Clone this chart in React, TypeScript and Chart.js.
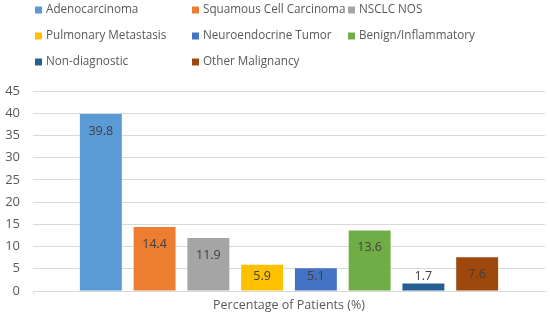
import React, { useEffect, useRef } from "react";
import { Chart, registerables } from "chart.js";

Chart.register(...registerables);

const categories = ["Percentage of Patients (%)"];
const seriesNames = [
  "Adenocarcinoma",
  "Squamous Cell Carcinoma",
  "NSCLC NOS",
  "Pulmonary Metastasis",
  "Neuroendocrine Tumor",
  "Benign/Inflammatory",
  "Non-diagnostic",
  "Other Malignancy",
];
const seriesValues = [39.8, 14.4, 11.9, 5.9, 5.1, 13.6, 1.7, 7.6];
const seriesColors = [
  "#5B9BD5",
  "#ED7D31",
  "#A5A5A5",
  "#FFC000",
  "#4472C4",
  "#70AD47",
  "#255E91",
  "#9E480E",
];
const yTicks = [0, 5, 10, 15, 20, 25, 30, 35, 40, 45];

const FONT = "'Open Sans', sans-serif";

const gridLegend = {
  id: "gridLegend",
  afterDraw(chart: any) {
    const ctx = chart.ctx;
    const colX = [35, 192, 348];
    const rowY = [10, 36, 62];
    ctx.save();
    ctx.font = `11.7px ${FONT}`;
    ctx.textBaseline = "middle";
    ctx.textAlign = "left";
    chart.data.datasets.forEach((ds: any, i: number) => {
      const x = colX[i % 3];
      const y = rowY[Math.floor(i / 3)];
      ctx.fillStyle = ds.backgroundColor;
      ctx.fillRect(x, y - 3.5, 7, 7);
      ctx.fillStyle = "#595959";
      ctx.fillText(ds.label, x + 11, y);
    });
    ctx.restore();
  },
};

const valueLabels = {
  id: "valueLabels",
  afterDatasetsDraw(chart: any) {
    const ctx = chart.ctx;
    const zeroY = chart.scales.y.getPixelForValue(0);
    ctx.save();
    ctx.font = `12.5px ${FONT}`;
    ctx.fillStyle = "#404040";
    ctx.textAlign = "center";
    ctx.textBaseline = "middle";
    chart.data.datasets.forEach((ds: any, i: number) => {
      const meta = chart.getDatasetMeta(i);
      meta.data.forEach((bar: any, j: number) => {
        const v = ds.data[j];
        const y = Math.min(bar.y + 17, zeroY - 15);
        ctx.fillText(v.toFixed(1), bar.x, y);
      });
    });
    // small tick at the left end of the x axis
    const left = chart.chartArea.left;
    ctx.strokeStyle = "#d9d9d9";
    ctx.lineWidth = 1;
    ctx.beginPath();
    ctx.moveTo(left + 0.5, zeroY);
    ctx.lineTo(left + 0.5, zeroY + 3);
    ctx.stroke();
    ctx.restore();
  },
};

export default function App() {
  const ref = useRef<HTMLCanvasElement>(null);
  useEffect(() => {
    if (!ref.current) return;
    const chart = new Chart(ref.current, {
      type: "bar",
      data: {
        labels: categories,
        datasets: seriesNames.map((name, i) => ({
          label: name,
          data: [seriesValues[i]],
          backgroundColor: seriesColors[i],
          borderWidth: 0,
          categoryPercentage: 0.84,
          barPercentage: 0.78,
        })),
      },
      options: {
        animation: false,
        responsive: false,
        maintainAspectRatio: false,
        layout: { padding: { top: 91, right: 5, left: 0, bottom: 0 } },
        plugins: {
          legend: { display: false },
          tooltip: { enabled: false },
        },
        scales: {
          x: {
            grid: { display: false, drawTicks: false },
            border: { display: true, color: "#d9d9d9", width: 1 },
            ticks: {
              color: "#595959",
              font: { family: FONT, size: 12.5 },
              padding: 7,
            },
            afterFit(scale: any) {
              scale.height = 30;
            },
          },
          y: {
            min: 0,
            max: 45,
            afterBuildTicks(scale: any) {
              scale.ticks = yTicks.map((v) => ({ value: v }));
            },
            grid: { color: "#d9d9d9", drawTicks: false },
            border: { display: false },
            ticks: {
              color: "#595959",
              font: { family: FONT, size: 13 },
              padding: 13,
            },
            afterFit(scale: any) {
              scale.width = 33;
            },
          },
        },
      },
      plugins: [gridLegend, valueLabels],
    });
    return () => chart.destroy();
  }, []);
  return (
    <div style={{ position: "fixed", left: 0, top: 0, width: 550, height: 321, background: "#fff" }}>
      <canvas ref={ref} width={550} height={321} style={{ width: 550, height: 321 }} />
    </div>
  );
}
